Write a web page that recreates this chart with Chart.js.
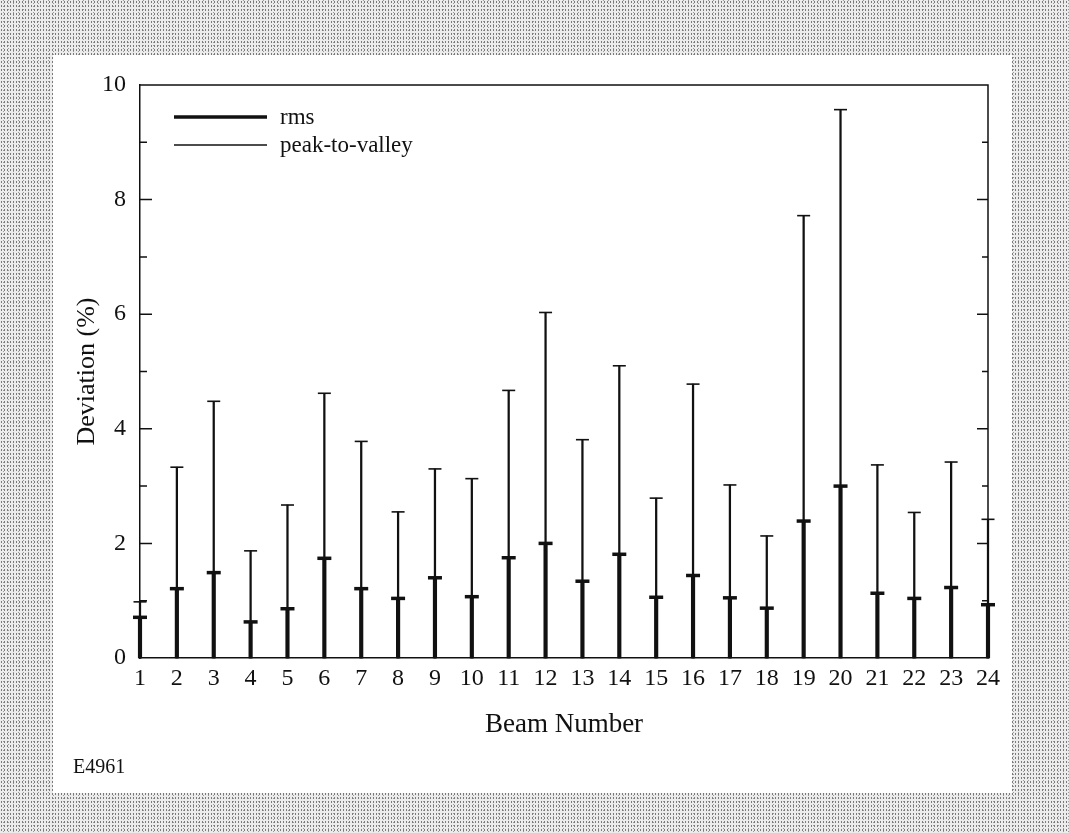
<!DOCTYPE html>
<html>
<head>
<meta charset="utf-8">
<script src="https://cdn.jsdelivr.net/npm/chart.js@4.4.1/dist/chart.umd.min.js"></script>
<style>
  html, body { margin: 0; padding: 0; }
  body {
    width: 1069px; height: 833px; position: relative; overflow: hidden;
    background-color: #ececec;
    background-image:
      radial-gradient(circle, #7a7a7a 0.7px, transparent 0.9px),
      radial-gradient(circle, #9a9a9a 0.6px, transparent 0.8px);
    background-size: 3px 4px, 5px 3px;
    background-position: 0 0, 1px 2px;
  }
  #plate { position: absolute; left: 53px; top: 55px; width: 959px; height: 738px; background: #fff; }
  #wrap { position: absolute; left: 0; top: 0; width: 1069px; height: 833px; }
</style>
</head>
<body>
<div id="plate"></div>
<div id="wrap"><canvas id="c" width="1069" height="833"></canvas></div>
<script>
// ---- data ----
const beams = [1,2,3,4,5,6,7,8,9,10,11,12,13,14,15,16,17,18,19,20,21,22,23,24];
const rms = [0.71,1.21,1.49,0.63,0.86,1.74,1.21,1.04,1.40,1.07,1.75,2.00,1.34,1.81,1.06,1.44,1.05,0.87,2.39,3.00,1.13,1.04,1.23,0.93];
const peakToValley = [0.98,3.33,4.48,1.87,2.67,4.62,3.78,2.55,3.30,3.13,4.67,6.03,3.81,5.10,2.79,4.78,3.02,2.13,7.72,9.57,3.37,2.54,3.42,2.42];
const yTickValues = [0,2,4,6,8,10];
const yMinorValues = [1,3,5,7,9];
const seriesNames = ['rms', 'peak-to-valley'];
const xTitle = 'Beam Number';
const yTitle = 'Deviation (%)';
const figureCode = 'E4961';

const FONT = "'Liberation Serif', 'Times New Roman', serif";
Chart.defaults.font.family = FONT;
Chart.defaults.color = '#111';

const pts = (vals) => beams.map((b, i) => ({x: b, y: vals[i]}));

const frameAndLegend = {
  id: 'frameAndLegend',
  afterDraw(chart) {
    const {ctx, chartArea: a, scales: {y}} = chart;
    ctx.save();
    ctx.strokeStyle = '#111';
    ctx.lineWidth = 1.5;
    ctx.beginPath();
    ctx.moveTo(a.left, a.top); ctx.lineTo(a.right, a.top); ctx.lineTo(a.right, a.bottom);
    ctx.stroke();
    const drawTick = (v, lenL, lenR) => {
      const py = y.getPixelForValue(v);
      ctx.beginPath();
      ctx.moveTo(a.left, py); ctx.lineTo(a.left + lenL, py);
      ctx.moveTo(a.right, py); ctx.lineTo(a.right - lenR, py);
      ctx.stroke();
    };
    yTickValues.forEach(v => { if (v > 0 && v < 10) drawTick(v, 12, 11); });
    yMinorValues.forEach(v => drawTick(v, 7, 6));
    const lx0 = a.left + 34, lx1 = a.left + 127, tx = a.left + 140;
    const rows = [{name: seriesNames[0], w: 3.5, yy: 117}, {name: seriesNames[1], w: 1.3, yy: 145}];
    ctx.font = '23px ' + FONT;
    ctx.fillStyle = '#111';
    ctx.textBaseline = 'middle';
    ctx.textAlign = 'left';
    rows.forEach(r => {
      ctx.lineWidth = r.w;
      ctx.beginPath(); ctx.moveTo(lx0, r.yy); ctx.lineTo(lx1, r.yy); ctx.stroke();
      ctx.fillText(r.name, tx, r.yy + 1);
    });
    ctx.font = '20px ' + FONT;
    ctx.textBaseline = 'alphabetic';
    ctx.fillText(figureCode, 73, 773);
    ctx.restore();
  }
};

new Chart(document.getElementById('c'), {
  type: 'bar',
  data: {
    datasets: [
      { label: seriesNames[1], data: pts(peakToValley), backgroundColor: '#111', barThickness: 1.6, grouped: false, clip: false, order: 4 },
      { label: seriesNames[0], data: pts(rms), backgroundColor: '#111', barThickness: 3.5, grouped: false, clip: false, order: 3 },
      { type: 'line', label: seriesNames[1] + ' cap', data: pts(peakToValley), showLine: false, pointStyle: 'line', pointRadius: 6.5, pointHoverRadius: 6.5, pointBorderWidth: 1.6, borderColor: '#111', backgroundColor: '#111', clip: false, order: 2 },
      { type: 'line', label: seriesNames[0] + ' cap', data: pts(rms), showLine: false, pointStyle: 'line', pointRadius: 7, pointHoverRadius: 7, pointBorderWidth: 3.5, borderColor: '#111', backgroundColor: '#111', clip: false, order: 1 }
    ]
  },
  options: {
    responsive: false,
    animation: false,
    events: [],
    layout: { padding: { top: 85, right: 81, left: 0, bottom: 0 } },
    plugins: { legend: { display: false }, tooltip: { enabled: false } },
    scales: {
      x: {
        type: 'linear', min: 1, max: 24, offset: false,
        afterBuildTicks: s => { s.ticks = beams.map(v => ({value: v})); },
        afterFit: s => { s.height = 175; },
        grid: { display: false, drawTicks: false },
        border: { display: true, color: '#111', width: 1.5 },
        ticks: { font: { size: 24 }, padding: 6, maxRotation: 0, autoSkip: false, color: '#111' },
        title: { display: true, text: xTitle, font: { size: 27 }, padding: { top: 0, bottom: 92 }, color: '#111' }
      },
      y: {
        type: 'linear', min: 0, max: 10,
        afterBuildTicks: s => { s.ticks = yTickValues.map(v => ({value: v})); },
        afterFit: s => { s.width = 140; },
        grid: { display: false, drawTicks: false },
        border: { display: true, color: '#111', width: 1.5 },
        ticks: { font: { size: 24 }, padding: 14, color: '#111' },
        title: { display: true, text: yTitle, font: { size: 26 }, padding: { top: 72, bottom: 0 }, color: '#111' }
      }
    }
  },
  plugins: [frameAndLegend]
});
</script>
</body>
</html>
